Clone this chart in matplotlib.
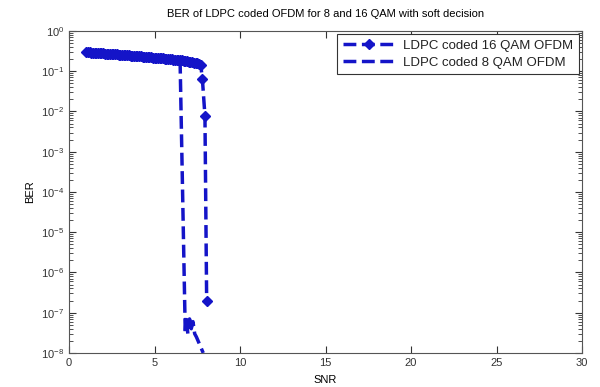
import numpy as np
import matplotlib.pyplot as plt

# SNR / BER values
snr16 = [1.0, 1.1, 1.2, 1.3, 1.4, 1.5, 1.6, 1.7, 1.8, 1.9, 2.0, 2.1, 2.2, 2.3, 2.4,
         2.5, 2.6, 2.7, 2.8, 2.9, 3.0, 3.1, 3.2, 3.3, 3.4, 3.5, 3.6, 3.7, 3.8, 3.9,
         4.0, 4.1, 4.2, 4.3, 4.4, 4.5, 4.6, 4.7, 4.8, 4.9, 5.0, 5.1, 5.2, 5.3, 5.4,
         5.5, 5.6, 5.7, 5.8, 5.9, 6.0, 6.1, 6.2, 6.3, 6.4, 6.5, 6.6, 6.7, 6.8, 6.9,
         7.0, 7.1, 7.2, 7.3, 7.4, 7.5, 7.6, 7.7, 7.8, 7.95, 8.05]
ber16 = [0.295, 0.294, 0.293, 0.291, 0.289, 0.287, 0.285, 0.283, 0.281, 0.279,
         0.277, 0.275, 0.273, 0.271, 0.269, 0.267, 0.265, 0.263, 0.261, 0.259,
         0.257, 0.255, 0.253, 0.251, 0.249, 0.247, 0.245, 0.243, 0.241, 0.239,
         0.237, 0.235, 0.233, 0.231, 0.229, 0.227, 0.225, 0.223, 0.221, 0.219,
         0.217, 0.215, 0.213, 0.211, 0.209, 0.207, 0.205, 0.203, 0.201, 0.199,
         0.197, 0.195, 0.193, 0.191, 0.189, 0.187, 0.185, 0.182, 0.179, 0.176,
         0.173, 0.170, 0.167, 0.164, 0.161, 0.158, 0.153, 0.145, 0.064, 0.0078, 2e-7]

snr8 = [1.0, 1.4, 1.8, 2.2, 2.6, 3.0, 3.4, 3.8, 4.2, 4.6, 5.0, 5.4, 5.8, 6.2, 6.5,
        6.8, 6.85, 6.95, 7.05, 7.15, 7.25, 7.35, 7.45, 7.85]
ber8 = [0.29, 0.28, 0.27, 0.262, 0.255, 0.248, 0.24, 0.233, 0.225, 0.217, 0.21,
        0.202, 0.194, 0.18, 0.15, 3e-8, 8e-8, 3e-8, 7e-8, 4e-8, 6e-8, 3e-8,
        2.5e-8, 1e-8]

blue = '#1414c8'
plt.rcParams['font.family'] = 'Liberation Sans'

fig = plt.figure(figsize=(6, 3.87), dpi=100)
ax = fig.add_axes([0.115, 0.088, 0.855, 0.832])

ax.semilogy(snr16, ber16, '--', color=blue, lw=2.5, marker='D', ms=5,
            label='LDPC coded 16 QAM OFDM')
ax.semilogy(snr8, ber8, '--', color=blue, lw=2.5, label='LDPC coded 8 QAM OFDM')

ax.set_xlim(0, 30)
ax.set_ylim(1e-8, 1)
ax.set_xticks([0, 5, 10, 15, 20, 25, 30])
ax.tick_params(which='both', direction='in', top=True, right=True,
               labelsize=8, colors='#333333')
ax.tick_params(which='major', length=5)
ax.tick_params(which='minor', length=3)
for s in ax.spines.values():
    s.set_color('#555555')

ax.set_title('BER of LDPC coded OFDM for 8 and 16 QAM with soft decision',
             fontsize=8, pad=10)
ax.set_xlabel('SNR', fontsize=8, labelpad=5)
ax.set_ylabel('BER', fontsize=8)

leg = ax.legend(loc='upper right', fontsize=9.5, fancybox=False, framealpha=1,
                edgecolor='#333333', borderaxespad=0.25, handlelength=4.0,
                handletextpad=0.6, borderpad=0.4, labelspacing=0.35)
leg.get_frame().set_linewidth(0.8)
for t in leg.get_texts():
    t.set_color('#222222')

fig.savefig('out.png', dpi=100)
